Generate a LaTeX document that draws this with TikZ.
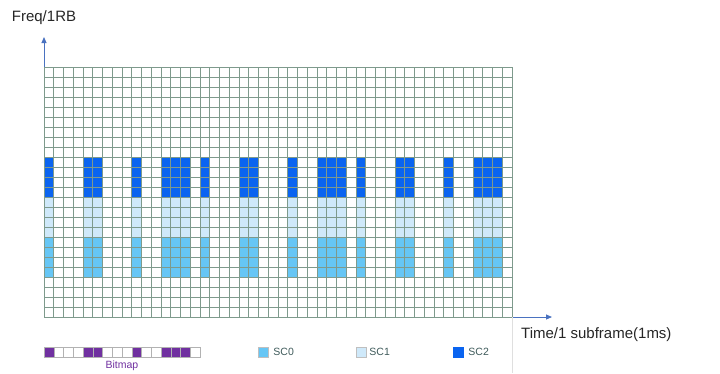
\documentclass[tikz,border=0pt]{standalone}
\usepackage{fontspec}
\setmainfont{Liberation Sans}
\usetikzlibrary{arrows.meta,positioning}
\definecolor{scBlue}{HTML}{0A64F0}
\definecolor{scLight}{HTML}{CFE9FA}
\definecolor{scSky}{HTML}{66C6F5}
\definecolor{bitPurple}{HTML}{7030A0}
\definecolor{gridGreen}{HTML}{7E9A8C}
\definecolor{axisBlue}{HTML}{4A72C0}
\definecolor{legendText}{HTML}{3E5A5A}
\definecolor{labelGray}{HTML}{262626}

\begin{document}
\begin{tikzpicture}[
  x=1pt, y=-1pt,
  cellgrid/.style={draw=gridGreen, line width=0.7pt},
  axis/.style={axisBlue, line width=0.9pt, -{Triangle[length=6pt,width=5pt]}},
  axislabel/.style={font=\fontsize{15}{18}\selectfont, text=labelGray, inner sep=0pt},
  key/.style={draw=gray!50, line width=0.5pt, minimum size=10pt, inner sep=0pt},
  keytext/.style={font=\fontsize{10.5}{12}\selectfont, text=legendText, inner sep=0pt}
]
\useasboundingbox (0,0) rectangle (720,373);

% SC blocks (bitmap repeats every 16 columns)
\foreach \p in {0,16,32}{
  \foreach \c in {0,4,5,9,12,13,14}{
    \fill[scBlue] ({44+(\p+\c)*9.75},157) rectangle ++(9.75,40);
    \fill[scLight] ({44+(\p+\c)*9.75},197) rectangle ++(9.75,40);
    \fill[scSky] ({44+(\p+\c)*9.75},237) rectangle ++(9.75,40);
  }
}

% Grid
\foreach \i in {0,...,48}
  \draw[cellgrid] ({44+\i*9.75},67) -- ({44+\i*9.75},317);
\foreach \j in {0,...,25}
  \draw[cellgrid] (44,{67+\j*10}) -- (512,{67+\j*10});

% Axes
\coordinate (ftop) at (44,67);
\coordinate (fend) at (44,37);
\coordinate (tstart) at (512,317);
\coordinate (tend) at (552,317);
\coordinate (edge) at (512,373);
\draw[axis] (ftop) -- (fend);
\draw[axis] (tstart) -- (tend);
\draw[gray!25, line width=0.6pt] (tstart) -- (edge);

\node[axislabel] (freq) at (44,18) {Freq/1RB};
\node[axislabel, anchor=west] (time) at (521,335) {Time/1 subframe(1ms)};

% Bitmap
\foreach \c in {0,4,5,9,12,13,14}
  \fill[bitPurple] ({44+\c*9.75},347) rectangle ++(9.75,10);
\foreach \k in {0,...,15}
  \draw[gray!60, line width=0.5pt] ({44+\k*9.75},347) rectangle ++(9.75,10);
\node[keytext, text=bitPurple] (bitmap) at (122,366) {Bitmap};

% Legend
\node[key, fill=scSky] (sc0box) at (263,352) {};
\node[keytext, right=5pt of sc0box] (sc0) {SC0};
\node[key, fill=scLight] (sc1box) at (361,352) {};
\node[keytext, right=3pt of sc1box] (sc1) {SC1};
\node[key, fill=scBlue, draw=scBlue] (sc2box) at (458,352) {};
\node[keytext, right=5pt of sc2box] (sc2) {SC2};

\end{tikzpicture}
\end{document}
